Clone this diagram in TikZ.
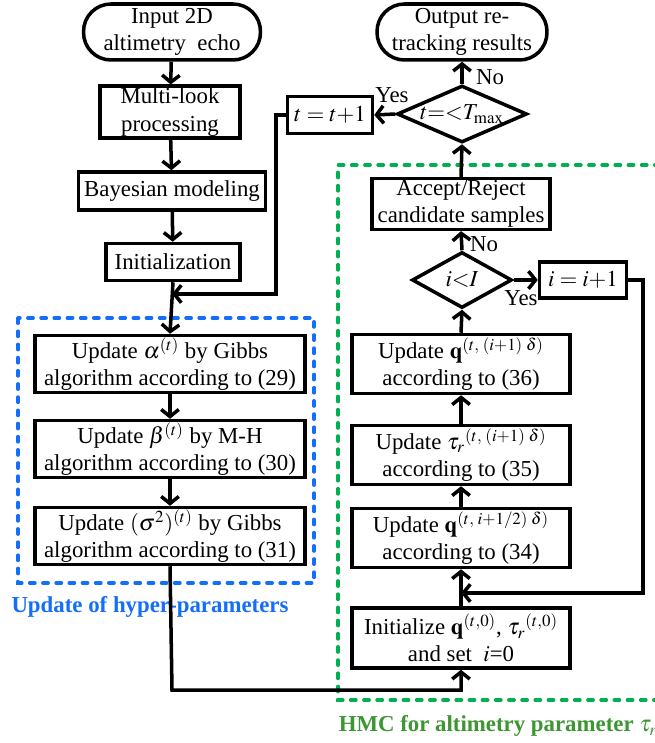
\documentclass[tikz,border=0pt]{standalone}
\usepackage{mathptmx}
\usepackage[no-math]{fontspec}
\setmainfont{Liberation Serif}
\usetikzlibrary{shapes.geometric,arrows.meta}
\definecolor{hypblue}{RGB}{20,110,250}
\definecolor{hmcgreen}{RGB}{0,176,80}
\definecolor{hmctext}{RGB}{60,150,50}
\newcommand{\ftxt}{\fontsize{13}{15.5}\selectfont}

\begin{document}
\begin{tikzpicture}[x=0.02cm,y=-0.02cm,
  every path/.style={line width=2pt},
  box/.style={draw,rectangle,align=center,inner sep=1pt,font=\ftxt,line width=2pt},
  term/.style={box,rounded corners=0.55cm},
  dec/.style={draw,diamond,inner sep=0pt,aspect=2.2,font=\ftxt,line width=2pt},
  arr/.style={line width=2pt,-{Straight Barb[length=4pt,width=10pt]}},
  lbl/.style={font=\ftxt,inner sep=0pt},
  grp/.style={line width=2pt,dash pattern=on 3pt off 4.5pt,line cap=round}]
\useasboundingbox (0,0) rectangle (655,743);

% group frames
\draw[grp,draw=hypblue] (18,318) rectangle (314,583);
\draw[grp,draw=hmcgreen] (660,165) -- (338,165) -- (338,700) -- (660,700);
\node[font=\ftxt\bfseries,text=hypblue] (hyplbl) at (150,607) {Update of hyper-parameters};
\node[font=\ftxt\bfseries,text=hmctext] (hmclbl) at (498,726) {HMC for altimetry parameter $\tau_r$};

% left column
\node[term,minimum width=3.54cm,minimum height=1.12cm] (in) at (172,32) {Input 2D\\altimetry\ \ echo};
\node[box,minimum width=2.8cm,minimum height=0.98cm] (ml) at (170,112) {Multi-look\\processing};
\node[box,minimum width=3.74cm,minimum height=0.76cm] (bm) at (172,191) {Bayesian modeling};
\node[box,minimum width=2.68cm,minimum height=0.74cm] (ini) at (173,262) {Initialization};
\node[box,minimum width=5.4cm,minimum height=1.14cm] (alp) at (170,364) {Update $\alpha^{(t)}$ by Gibbs\\algorithm according to (29)};
\node[box,minimum width=5.4cm,minimum height=1.14cm] (bet) at (170,449) {Update $\beta^{(t)}$ by M-H\\algorithm according to (30)};
\node[box,minimum width=5.4cm,minimum height=1.14cm] (sig) at (170,536) {Update $(\sigma^2)^{(t)}$ by Gibbs\\algorithm according to (31)};

% right column
\node[term,minimum width=3.4cm,minimum height=1.12cm] (out) at (462,32) {Output re-\\tracking results};
\node[dec,minimum width=2.6cm,minimum height=1.14cm] (tmax) at (462,114) {$t{=}{<}T_{\max}$};
\node[box,minimum width=1.7cm,minimum height=0.74cm] (tt) at (330,115) {$t=t{+}1$};
\node[box,minimum width=3.56cm,minimum height=0.96cm] (acc) at (461,204) {Accept/Reject\\candidate samples};
\node[dec,minimum width=2cm,minimum height=1.12cm] (ilt) at (462,280) {$i{<}I$};
\node[box,minimum width=1.74cm,minimum height=0.72cm] (ii) at (583,280) {$i=i{+}1$};
\node[box,minimum width=4.36cm,minimum height=1.18cm] (q36) at (461,364) {Update $\mathbf{q}^{(t,\;(i+1)\;\delta)}$\\according to (36)};
\node[box,minimum width=4.36cm,minimum height=1.18cm] (tau35) at (461,455) {Update $\tau_r{}^{(t,\;(i+1)\;\delta)}$\\according to (35)};
\node[box,minimum width=4.36cm,minimum height=1.18cm] (q34) at (461,538) {Update $\mathbf{q}^{(t,\;i+1/2)\;\delta)}$\\according to (34)};
\node[box,minimum width=4.36cm,minimum height=1.2cm] (init) at (461,638) {Initialize $\mathbf{q}^{(t,0)}$, $\tau_r{}^{(t,0)}$\\and set\ \ $i$=0};

\coordinate (j1) at (172,294);
\coordinate (lp) at (276,294);
\coordinate (b1) at (172,690);
\coordinate (j2) at (461,593);
\coordinate (rp) at (643,593);

% connectors
\draw[arr] (in) -- (ml);
\draw[arr] (ml) -- (bm);
\draw[arr] (bm) -- (ini);
\draw[arr] (ini.south) -- (alp.north);
\draw[arr] (tt.west) -| (lp) -- (j1);
\draw[arr] (alp) -- (bet);
\draw[arr] (bet) -- (sig);
\draw[arr] (sig.south) -- (b1) -| (init.south);
\draw[arr] (init) -- (q34);
\draw[arr] (q34) -- (tau35);
\draw[arr] (tau35) -- (q36);
\draw[arr] (q36.north) -- (ilt.south);
\draw[arr] (ilt.north) -- (acc.south);
\draw[arr] (acc.north) -- (tmax.south);
\draw[arr] (tmax.north) -- (out.south);
\draw[arr] (tmax.west) -- (tt.east);
\draw[arr] (ilt.east) -- (ii.west);
\draw[arr] (ii.east) -| (rp) -- (j2);

\node[lbl] (no1) at (490,77) {No};
\node[lbl] (yes1) at (392,95) {Yes};
\node[lbl] (no2) at (484,244) {No};
\node[lbl] (yes2) at (521,298) {Yes};
\end{tikzpicture}
\end{document}
